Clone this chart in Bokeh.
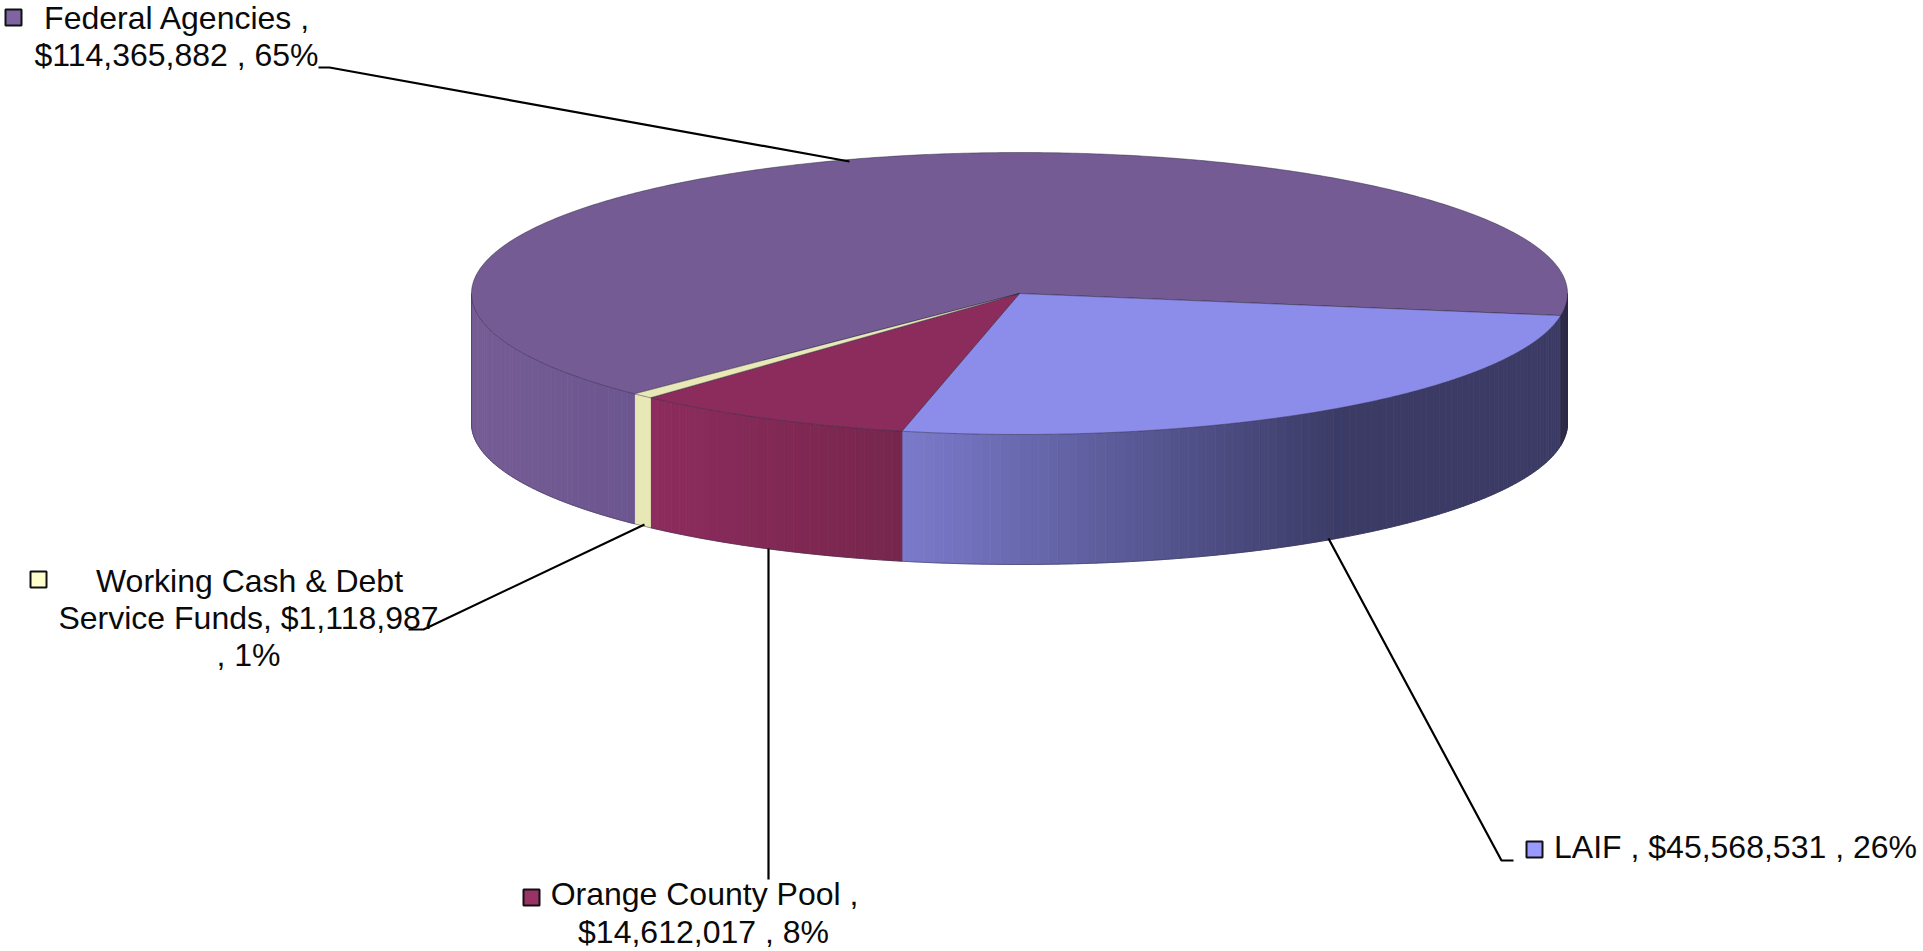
import numpy as np
from bokeh.plotting import figure
from bokeh.models import Range1d
from bokeh.core.properties import value
from bokeh.embed import file_html
from bokeh.resources import INLINE

# ---- data ----
categories = ["LAIF", "Orange County Pool", "Working Cash & Debt Service Funds", "Federal Agencies"]
amounts = [45568531, 14612017, 1118987, 114365882]
top_colors = ["#8c8ceb", "#8b2c5d", "#e9e9b8", "#755b93"]
legend_colors = ["#9999ff", "#993366", "#ffffcc", "#8064a2"]

label_lines = ["Federal Agencies ,", "$114,365,882 , 65%",
               "Working Cash & Debt", "Service Funds, $1,118,987", ", 1%",
               "Orange County Pool ,", "$14,612,017 , 8%",
               "LAIF , $45,568,531 , 26%"]
label_x = [177, 176, 249, 248, 248, 704, 703, 1735]
label_y = [29, 66, 592, 629, 666, 905, 943, 858]

swatch_x = [13, 38, 531, 1534]
swatch_y = [17, 579, 897, 849]
swatch_cat = [3, 2, 1, 0]

leader_x = [[318, 329, 849], [644, 423, 408], [768, 768], [1328, 1501, 1513]]
leader_y = [[67, 67, 161], [524, 629, 629], [548, 879], [538, 860, 860]]

# ---- geometry of the pie ----
cx, cy, rx, ry, depth = 1019, 293, 548, 141, 130
start_deg = 9.0

W, H = 1923, 951
p = figure(width=W, height=H, x_range=Range1d(0, W), y_range=Range1d(H, 0),
           output_backend="svg", toolbar_location=None, min_border=0,
           outline_line_color=None, margin=(0, 0, 0, 0))
p.xaxis.visible = False
p.yaxis.visible = False
p.grid.visible = False
p.background_fill_color = "white"
p.border_fill_color = "white"

total = sum(amounts)
spans = np.array(amounts) / total * 360.0
edges = start_deg + np.concatenate([[0], np.cumsum(spans)])


def rim(a, b, n=None):
    n = n or max(2, int(abs(b - a) * 2) + 2)
    t = np.radians(np.linspace(a, b, n))
    return cx + rx * np.cos(t), cy + ry * np.sin(t)


def mix(c1, c2, f):
    f = min(1.0, max(0.0, f))
    a = [int(c1[i:i + 2], 16) for i in (1, 3, 5)]
    b = [int(c2[i:i + 2], 16) for i in (1, 3, 5)]
    return "#%02x%02x%02x" % tuple(int(round(a[i] + (b[i] - a[i]) * f)) for i in range(3))


def side_color(i, x):
    if i == 0:      # LAIF
        return mix("#7a7acb", "#3b3b66", (x - 902) / (1340 - 902))
    if i == 1:      # Orange County Pool
        return mix("#8d2c5e", "#76264c", (x - 650) / (902 - 650))
    if i == 2:      # Working cash
        return "#e8e8b6"
    if x > 1500:    # Federal sliver on the right
        return "#2c2846"
    return mix("#755c94", "#6c5690", (x - 471) / (640 - 471))


def draw_side(i, a, b):
    a, b = max(a, 0), min(b, 180)
    if b <= a:
        return
    steps = np.arange(a, b, 1.0).tolist() + [b]
    xs, ys, cols = [], [], []
    for s, e in zip(steps[:-1], steps[1:]):
        x, y = rim(s, e, 4)
        xs.append(np.concatenate([x, x[::-1]]).tolist())
        ys.append(np.concatenate([y, y[::-1] + depth]).tolist())
        c = side_color(i, float(x.mean()))
        cols.append(c)
    p.patches(xs, ys, fill_color=cols, line_color=cols, line_width=0.8)


# sides
for i in range(4):
    draw_side(i, edges[i], edges[i + 1])
    draw_side(i, edges[i] - 360, edges[i + 1] - 360)

# lower silhouette
lx, ly = rim(0, 180, 200)
p.line(lx, ly + depth, line_color="#2a2a45", line_width=0.8, line_alpha=0.55)
p.line([cx + rx, cx + rx], [cy, cy + depth], line_color="#2a2a45", line_width=0.8, line_alpha=0.55)
p.line([cx - rx, cx - rx], [cy, cy + depth], line_color="#2a2a45", line_width=0.8, line_alpha=0.55)

# top faces
for i in [3, 0, 1, 2]:
    x, y = rim(edges[i], edges[i + 1])
    p.patch(np.concatenate([[cx], x, [cx]]), np.concatenate([[cy], y, [cy]]),
            fill_color=top_colors[i], line_color="#2b2540", line_width=0.8, line_alpha=0.6)

# leader lines
for lxs, lys in zip(leader_x, leader_y):
    p.line(lxs, lys, line_color="black", line_width=2.2)

# legend keys
p.rect(swatch_x, swatch_y, width=16, height=16,
       fill_color=[legend_colors[c] for c in swatch_cat], line_color="#111111", line_width=2)

# labels
p.text(label_x, label_y, text=label_lines, text_align="center", text_baseline="alphabetic",
       text_font=value("Liberation Sans"), text_font_size="32px", text_color="#0a0a0a",
       y_offset=-12)

open("out.html", "w").write(file_html(p, INLINE))
